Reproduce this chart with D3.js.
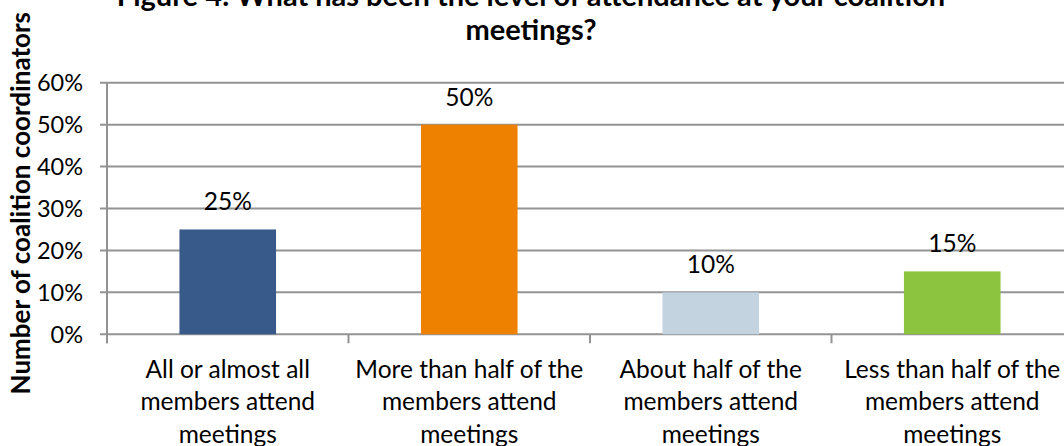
<!DOCTYPE html>
<html>
<head>
<meta charset="utf-8">
<script src="https://cdn.jsdelivr.net/npm/d3@7"></script>
<style>
  html, body { margin: 0; padding: 0; background: #fff; overflow: hidden; }
  svg { display: block; }
  text { font-family: Lato, "Open Sans", sans-serif; fill: #000; }
</style>
</head>
<body>
<svg id="chart" width="1064" height="446"></svg>
<script>
// Survey responses: share of coalition coordinators per attendance level
const categories = [
  ["All or almost all", "members attend", "meetings"],
  ["More than half of the", "members attend", "meetings"],
  ["About half of the", "members attend", "meetings"],
  ["Less than half of the", "members attend", "meetings"]
];
const values = [0.25, 0.50, 0.10, 0.15];
const barColors = ["#375a8a", "#ef8100", "#c3d3e0", "#8cc43f"];
const yTicks = [0, 0.1, 0.2, 0.3, 0.4, 0.5, 0.6];
const titleLines = [
  "Figure 4: What has been the level of attendance at your coalition",
  "meetings?"
];
const yAxisTitle = "Number of coalition coordinators";

const svg = d3.select("#chart");
const plot = { left: 107, right: 1073, top: 82.7, bottom: 334.3 };
const gridColor = "#939393";

const x = d3.scaleBand()
  .domain(d3.range(categories.length))
  .range([plot.left, plot.right])
  .paddingInner(0.6)
  .paddingOuter(0.3);

const y = d3.scaleLinear()
  .domain([0, 0.6])
  .range([plot.bottom, plot.top]);

const pct = d3.format(".0%");

// horizontal gridlines with short tick stubs on the left
svg.append("g")
  .selectAll("line")
  .data(yTicks)
  .join("line")
  .attr("x1", plot.left - 7)
  .attr("x2", 1064)
  .attr("y1", d => y(d))
  .attr("y2", d => y(d))
  .attr("stroke", gridColor)
  .attr("stroke-width", 2);

// y tick labels
svg.append("g")
  .selectAll("text")
  .data(yTicks)
  .join("text")
  .attr("x", 83)
  .attr("y", d => y(d))
  .attr("dy", "0.36em")
  .attr("text-anchor", "end")
  .style("font-size", "23.5px")
  .text(d => pct(d));

// vertical axis line
svg.append("line")
  .attr("x1", plot.left).attr("x2", plot.left)
  .attr("y1", plot.top).attr("y2", plot.bottom + 9)
  .attr("stroke", gridColor).attr("stroke-width", 2);

// category boundary ticks below the baseline
const step = x.step();
const boundaries = d3.range(categories.length + 1).map(i => plot.left + i * step);
svg.append("g")
  .selectAll("line")
  .data(boundaries)
  .join("line")
  .attr("x1", d => d).attr("x2", d => d)
  .attr("y1", plot.bottom).attr("y2", plot.bottom + 9)
  .attr("stroke", gridColor).attr("stroke-width", 2);

// bars
svg.append("g")
  .selectAll("rect")
  .data(values)
  .join("rect")
  .attr("x", (d, i) => x(i))
  .attr("width", x.bandwidth())
  .attr("y", d => y(d))
  .attr("height", d => y(0) - y(d))
  .attr("fill", (d, i) => barColors[i]);

// value labels above bars
svg.append("g")
  .selectAll("text")
  .data(values)
  .join("text")
  .attr("x", (d, i) => x(i) + x.bandwidth() / 2)
  .attr("y", d => y(d) - 19)
  .attr("text-anchor", "middle")
  .style("font-size", "24.5px")
  .text(d => pct(d));

// category labels, three lines each
const cat = svg.append("g")
  .selectAll("text")
  .data(categories)
  .join("text")
  .attr("text-anchor", "middle")
  .style("font-size", "24.5px");
cat.selectAll("tspan")
  .data((d, i) => d.map(line => ({ line, i })))
  .join("tspan")
  .attr("x", d => x(d.i) + x.bandwidth() / 2)
  .attr("y", (d, j) => 377.5 + j * 32.5)
  .text(d => d.line);

// chart title
svg.append("g")
  .selectAll("text")
  .data(titleLines)
  .join("text")
  .attr("x", 531)
  .attr("y", (d, i) => 6 + i * 34)
  .attr("text-anchor", "middle")
  .style("font-size", "29px")
  .style("font-weight", "bold")
  .text(d => d);

// vertical axis title
svg.append("text")
  .attr("transform", "translate(30,12) rotate(-90)")
  .attr("text-anchor", "end")
  .style("font-size", "26px")
  .style("font-weight", "bold")
  .text(yAxisTitle);
</script>
</body>
</html>
